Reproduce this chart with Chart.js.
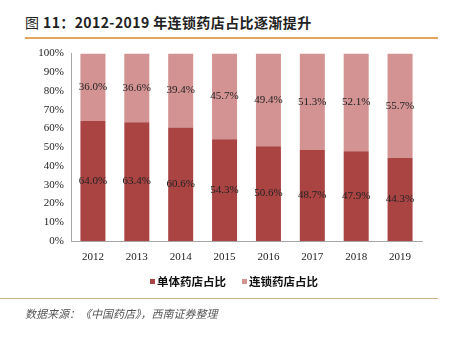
<!DOCTYPE html>
<html>
<head>
<meta charset="utf-8">
<script src="https://cdn.jsdelivr.net/npm/chart.js@4.4.1/dist/chart.umd.min.js"></script>
<style>
  html, body { margin: 0; padding: 0; background: #fff; }
  #wrap { position: relative; width: 474px; height: 350px; overflow: hidden; }
  #title { position: absolute; left: 25px; top: 12px; font: bold 14px "Noto Sans CJK SC", sans-serif; color: #222; letter-spacing: 0.4px; }
  #title .fig { font-weight: normal; }
  #topline { position: absolute; left: 25px; top: 37px; width: 413px; height: 2px; background: #E2A65A; }
  #botline { position: absolute; left: 0; top: 298px; width: 438px; height: 1px; background: #C9B48A; }
  #source { position: absolute; left: 25px; top: 305px; font: italic 11px "Noto Sans CJK SC", serif; color: #555; }
  #chartBox { position: absolute; left: 0; top: 40px; width: 474px; height: 235px; }
  #legend { position: absolute; left: 150px; top: 273px; display: flex; align-items: center; font: bold 11.5px "Noto Sans CJK SC", sans-serif; color: #111; white-space: nowrap; }
  #legend .sw { display: inline-block; width: 5px; height: 5px; margin-right: 2px; }
  #legend .item { display: flex; align-items: center; margin-right: 16px; }
</style>
</head>
<body>
<div id="wrap">
  <div id="title"><span class="fig">图</span> 11：2012-2019 年连锁药店占比逐渐提升</div>
  <div id="topline"></div>
  <div id="chartBox"><canvas id="chart"></canvas></div>
  <div id="legend"></div>
  <div id="botline"></div>
  <div id="source">数据来源：《中国药店》，西南证券整理</div>
</div>
<script>
document.addEventListener('DOMContentLoaded', () => {
    // data
    const years = ['2012', '2013', '2014', '2015', '2016', '2017', '2018', '2019'];
    const singleStore = [64.0, 63.4, 60.6, 54.3, 50.6, 48.7, 47.9, 44.3];
    const chainStore = [36.0, 36.6, 39.4, 45.7, 49.4, 51.3, 52.1, 55.7];
    const seriesNames = ['单体药店占比', '连锁药店占比'];
    const colors = ['#A94442', '#D39392'];

    // draw the value in the middle of each bar segment
    const segmentLabels = {
        id: 'segmentLabels',
        afterDatasetsDraw(chart) {
            const ctx = chart.ctx;
            ctx.save();
            ctx.font = '11px "Liberation Serif", serif';
            ctx.fillStyle = '#222';
            ctx.textAlign = 'center';
            ctx.textBaseline = 'middle';
            chart.data.datasets.forEach((ds, i) => {
                chart.getDatasetMeta(i).data.forEach((bar, j) => {
                    const mid = (bar.y + bar.base) / 2;
                    ctx.fillText(ds.data[j].toFixed(1) + '%', bar.x, mid);
                });
            });
            ctx.restore();
        }
    };

    const chart = new Chart(document.getElementById('chart'), {
        type: 'bar',
        data: {
            labels: years,
            datasets: [
                { label: seriesNames[0], data: singleStore, backgroundColor: colors[0] },
                { label: seriesNames[1], data: chainStore, backgroundColor: colors[1] }
            ]
        },
        options: {
            responsive: true,
            maintainAspectRatio: false,
            animation: false,
            layout: { padding: { left: 20, right: 52, top: 12, bottom: 0 } },
            datasets: { bar: { categoryPercentage: 0.57, barPercentage: 1.0 } },
            plugins: {
                legend: { display: false },
                tooltip: { enabled: false }
            },
            scales: {
                x: {
                    stacked: true,
                    afterFit: (scale) => { scale.height = 34; },
                    grid: { display: false, drawTicks: false },
                    border: { color: '#A6A6A6' },
                    ticks: { color: '#222', padding: 10, font: { family: '"Liberation Serif", serif', size: 11 } }
                },
                y: {
                    stacked: true,
                    min: 0,
                    max: 100,
                    afterFit: (scale) => { scale.width = 51; },
                    grid: { display: false, drawTicks: false },
                    border: { color: '#A6A6A6' },
                    ticks: {
                        stepSize: 10,
                        color: '#222',
                        padding: 7,
                        font: { family: '"Liberation Serif", serif', size: 11 },
                        callback: (v) => v + '%'
                    }
                }
            }
        },
        plugins: [segmentLabels]
    });

    // legend built from the chart's datasets
    const legend = document.getElementById('legend');
    chart.data.datasets.forEach((ds) => {
        const item = document.createElement('span');
        item.className = 'item';
        item.innerHTML = `<span class="sw" style="background:${ds.backgroundColor}"></span>${ds.label}`;
        legend.appendChild(item);
    });
});
</script>
</body>
</html>
